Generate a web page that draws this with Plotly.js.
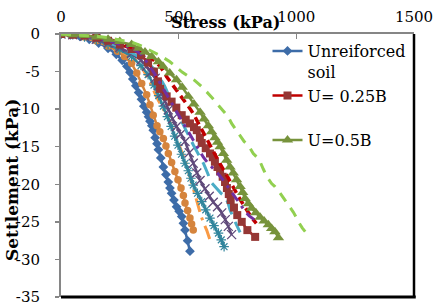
<!DOCTYPE html>
<html>
<head>
<meta charset="utf-8">
<script src="https://cdn.plot.ly/plotly-3.0.1.min.js"></script>
<style>html,body{margin:0;padding:0;background:#fff;}#chart{width:437px;height:308px;}</style>
</head>
<body>
<div id="chart"></div>
<script>
// ---- Data (stress in kPa, settlement) ----
const xTicks = [0, 500, 1000, 1500];
const yTicks = [0, -5, -10, -15, -20, -25, -30, -35];

const unreinforcedStress = [0,40,80,120,160,200,235,260,280,293,305,318,330,342,352,364,372,378,386,392,400,408,414,424,435,446,456,463,470,480,491,502,513,520,527,538,548];
const unreinforcedSettle = [0,-0.1,-0.3,-0.7,-1.2,-1.9,-2.7,-3.5,-4.3,-5.1,-6.0,-6.9,-7.8,-8.7,-9.6,-10.4,-11.0,-11.6,-12.2,-12.8,-13.8,-14.6,-15.4,-16.5,-17.7,-18.7,-19.7,-20.5,-21.2,-22.1,-23.0,-23.6,-24.3,-25.2,-26.1,-27.5,-28.9];

const orangeStress = [0,50,100,150,200,240,270,300,322,343,364,378,392,408,420,435,446,456,470,484,497,510,520,527,538,548,555,562];
const orangeSettle = [0,-0.1,-0.4,-0.9,-1.6,-2.3,-3.0,-3.9,-5.2,-6.6,-8.1,-9.4,-10.8,-12.2,-13.0,-13.9,-14.9,-15.9,-17.1,-18.3,-19.4,-20.5,-21.5,-22.5,-23.5,-24.5,-25.3,-26.1];

const lightOrangeStress = [0,50,100,150,200,250,300,336,358,378,395,413,435,456,470,484,497,512,527,540,552,562,573,584,595,605,619,633];
const lightOrangeSettle = [0,-0.2,-0.5,-0.9,-1.5,-2.2,-3.0,-4.0,-5.2,-6.4,-7.6,-8.8,-10.0,-11.2,-12.3,-13.4,-14.5,-15.6,-16.8,-18.1,-19.4,-20.8,-22.0,-23.2,-24.2,-25.1,-26.1,-27.4];

const tealStress = [0,50,100,150,200,250,300,340,370,395,415,435,452,468,483,497,512,527,541,552,562,580,598,615,633,650,669,681,693];
const tealSettle = [0,-0.1,-0.4,-0.8,-1.4,-2.1,-3.0,-4.2,-5.4,-6.8,-8.2,-9.6,-11.0,-12.3,-13.6,-14.8,-16.0,-17.2,-18.2,-19.2,-20.1,-21.2,-22.3,-23.4,-24.5,-25.5,-26.5,-27.4,-28.3];

const purpleStress = [0,50,100,150,200,250,300,340,364,382,400,414,428,442,456,474,491,509,527,545,562,577,591,612,630,647,665,683,698,711,725];
const purpleSettle = [0,-0.1,-0.3,-0.7,-1.2,-1.8,-2.6,-3.5,-4.3,-5.1,-5.9,-6.9,-7.9,-9.0,-10.1,-11.3,-12.3,-13.3,-14.3,-15.8,-17.2,-18.5,-19.5,-20.6,-21.6,-22.4,-23.0,-23.8,-24.7,-25.6,-26.7];

const lightBlueStress = [0,50,100,150,200,250,300,340,375,400,420,440,456,470,484,498,515,530,548,563,577,591,605,620,630,640,654,668,680,697,710,718,725,740,752,761];
const lightBlueSettle = [0,-0.1,-0.3,-0.6,-1.1,-1.7,-2.5,-3.2,-4.0,-4.8,-5.8,-6.9,-8.0,-9.0,-10.0,-10.9,-11.8,-12.8,-14.0,-14.8,-15.6,-16.4,-17.2,-18.3,-19.2,-19.8,-20.3,-20.8,-21.2,-21.6,-22.5,-23.4,-24.0,-25.0,-25.8,-26.4];

const u025Stress = [0,50,100,150,200,250,300,340,370,395,412,421,449,470,490,513,530,548,565,577,590,598,615,633,645,654,665,676,687,697,705,713,721,735,749,768,792,825];
const u025Settle = [0,-0.1,-0.2,-0.5,-0.9,-1.4,-2.0,-2.8,-3.8,-5.0,-6.3,-7.3,-8.3,-9.0,-9.8,-10.8,-11.4,-11.9,-12.4,-12.8,-13.8,-14.5,-15.2,-15.9,-16.4,-17.0,-17.7,-18.3,-19.0,-19.7,-20.5,-21.3,-22.1,-23.1,-24.1,-25.0,-26.1,-27.0];

const redDashStress = [0,50,100,150,200,250,307,345,378,400,421,436,449,470,491,512,534,552,569,587,605,626,647,661,676,697,718,736,753,771,789,807,830];
const redDashSettle = [0,-0.1,-0.2,-0.4,-0.7,-1.1,-1.9,-2.4,-3.0,-3.6,-4.3,-5.0,-5.7,-6.6,-7.5,-8.3,-9.2,-10.1,-11.0,-12.1,-13.2,-14.5,-15.7,-16.5,-17.3,-18.4,-19.5,-20.6,-21.6,-22.6,-23.4,-24.3,-25.2];

const purpleDashStress = [0,50,100,150,200,250,300,340,371,400,420,440,460,480,500,520,541,562,585,605,625,645,665,683,704,720,735,758,782,800,825];
const purpleDashSettle = [0,-0.1,-0.3,-0.5,-0.9,-1.3,-1.8,-2.7,-4.0,-5.4,-6.5,-7.7,-8.8,-9.8,-10.8,-11.9,-13.0,-14.1,-15.4,-16.4,-17.2,-17.8,-18.5,-19.2,-20.1,-20.8,-21.4,-22.5,-23.6,-24.2,-24.8];

const u05Stress = [0,50,100,150,200,250,300,330,357,385,414,433,462,491,515,541,565,591,608,626,640,654,665,676,690,704,718,732,746,761,772,782,796,810,828,846,863,881,895,909,924];
const u05Settle = [0,-0.1,-0.2,-0.4,-0.7,-1.0,-1.4,-1.9,-2.4,-3.0,-3.7,-4.3,-5.2,-6.1,-7.1,-8.3,-9.3,-10.4,-11.3,-12.2,-13.0,-13.8,-14.4,-15.0,-15.9,-16.8,-17.7,-18.5,-19.4,-20.3,-21.1,-21.9,-22.6,-23.2,-23.8,-24.4,-24.9,-25.4,-25.9,-26.3,-27.1];

const lightGreenStress = [0,50,100,150,200,250,300,336,364,392,428,463,490,516,545,569,598,620,640,661,676,690,710,725,740,760,778,796,817,833,846,860,875,895,909,927,945,960,973,987,1000,1009,1025,1040];
const lightGreenSettle = [0,-0.1,-0.2,-0.3,-0.5,-0.8,-1.1,-1.5,-1.9,-2.4,-3.0,-3.7,-4.4,-5.1,-5.7,-6.2,-7.0,-7.7,-8.4,-9.2,-9.8,-10.2,-11.0,-11.9,-12.6,-13.6,-14.3,-14.8,-15.9,-16.4,-17.0,-18.0,-19.0,-19.9,-20.3,-21.0,-21.8,-22.5,-23.0,-23.7,-24.4,-25.0,-25.8,-26.4];

const legendNames = ["Unreiforced<br>soil", "U= 0.25B<br>\u00A0", "U=0.5B"];

// ---- Traces ----
const traces = [
  {x: unreinforcedStress, y: unreinforcedSettle, name: legendNames[0], mode: 'lines+markers',
   line: {color: '#3D6CA8', width: 2.5}, marker: {symbol: 'diamond', size: 7.5, color: '#3D6CA8'}},
  {x: orangeStress, y: orangeSettle, mode: 'lines+markers', showlegend: false,
   line: {color: '#D5843D', width: 2.5}, marker: {symbol: 'circle', size: 7.5, color: '#D5843D'}},
  {x: lightOrangeStress, y: lightOrangeSettle, mode: 'lines', showlegend: false,
   line: {color: '#F99A45', width: 3, dash: '14px,6px,3px,6px'}},
  {x: tealStress, y: tealSettle, mode: 'lines+markers', showlegend: false,
   line: {color: '#31859C', width: 2.5}, marker: {symbol: 'asterisk-open', size: 8, color: '#31859C', line: {color: '#31859C', width: 1.2}}},
  {x: purpleStress, y: purpleSettle, mode: 'lines+markers', showlegend: false,
   line: {color: '#604A7B', width: 2.5}, marker: {symbol: 'x-thin-open', size: 9, color: '#604A7B', line: {color: '#604A7B', width: 1.3}}},
  {x: lightBlueStress, y: lightBlueSettle, mode: 'lines', showlegend: false,
   line: {color: '#4BACC6', width: 3, dash: '15px,8px'}},
  {x: u025Stress, y: u025Settle, name: legendNames[1], mode: 'lines+markers',
   line: {color: '#C00000', width: 2.5}, marker: {symbol: 'square', size: 8, color: '#953735'}},
  {x: redDashStress, y: redDashSettle, mode: 'lines', showlegend: false,
   line: {color: '#C00000', width: 3.5, dash: '8px,5px'}},
  {x: purpleDashStress, y: purpleDashSettle, mode: 'lines', showlegend: false,
   line: {color: '#7030A0', width: 3, dash: '10px,6px,3px,6px'}},
  {x: u05Stress, y: u05Settle, name: legendNames[2], mode: 'lines+markers',
   line: {color: '#77933C', width: 2.5}, marker: {symbol: 'triangle-up', size: 10, color: '#77933C'}},
  {x: lightGreenStress, y: lightGreenSettle, mode: 'lines', showlegend: false,
   line: {color: '#92D050', width: 3, dash: '10px,8px'}}
];

const fontFam = 'DejaVu Serif';

const layout = {
  width: 437, height: 308,
  margin: {l: 61, r: 23, t: 34, b: 11},
  paper_bgcolor: '#ffffff', plot_bgcolor: '#ffffff',
  font: {family: fontFam, color: '#000000', size: 16},
  showlegend: true,
  legend: {
    x: 0.585, xanchor: 'left', y: 1.0, yanchor: 'top',
    bgcolor: 'rgba(255,255,255,0)', borderwidth: 0,
    font: {family: fontFam, size: 16, color: '#000'},
    valign: 'top', tracegroupgap: 0
  },
  xaxis: {
    side: 'top', range: [0, 1500], tickvals: xTicks, ticktext: xTicks.map(String),
    showgrid: false, zeroline: false,
    showline: true, linecolor: '#868686', linewidth: 2,
    ticks: 'inside', ticklen: 5, tickcolor: '#868686', tickwidth: 1.5,
    tickfont: {family: fontFam, size: 15, color: '#000'},
    ticklabelstandoff: 4
  },
  yaxis: {
    range: [-35, 0], tickvals: yTicks, ticktext: yTicks.map(v => v === 0 ? '0' : '-' + Math.abs(v)),
    showgrid: false, zeroline: false,
    showline: true, linecolor: '#868686', linewidth: 2,
    ticks: 'outside', ticklen: 4, tickcolor: '#868686', tickwidth: 1.5,
    tickfont: {family: fontFam, size: 15, color: '#000'},
    ticklabelstandoff: 12
  },
  shapes: [
    {type: 'line', xref: 'paper', yref: 'paper', x0: 0, x1: 1.005, y0: 0, y1: 0, line: {color: '#000', width: 3}},
    {type: 'line', xref: 'paper', yref: 'paper', x0: 1, x1: 1, y0: 0, y1: 1, line: {color: '#000', width: 2.5}}
  ],
  annotations: [
    {text: '<b>Stress (kPa)</b>', xref: 'paper', yref: 'paper', x: (225 - 61) / 353, y: 1 + (34 - 23) / 263,
     xanchor: 'center', yanchor: 'middle', showarrow: false, font: {family: fontFam, size: 16, color: '#000'}},
    {text: '<b>Settlement (kPa)</b>', xref: 'paper', yref: 'paper', x: (12 - 61) / 353, y: 1 - (180 - 34) / 263,
     xanchor: 'center', yanchor: 'middle', textangle: -90, showarrow: false, font: {family: fontFam, size: 17, color: '#000'}}
  ]
};

Plotly.newPlot('chart', traces, layout, {displayModeBar: false, staticPlot: true});
</script>
</body>
</html>
